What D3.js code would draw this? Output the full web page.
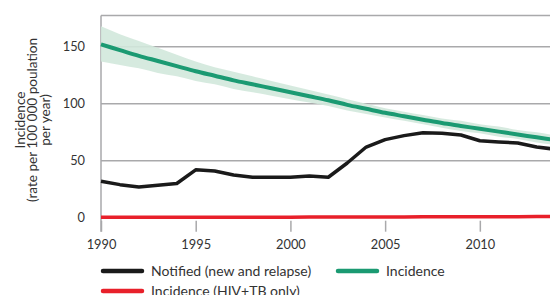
<!DOCTYPE html>
<html><head><meta charset="utf-8">
<script src="https://cdn.jsdelivr.net/npm/d3@7"></script>
<style>body{margin:0;background:#fff}svg{display:block}text{font-family:Lato,"Open Sans",sans-serif;fill:#333}</style>
</head><body>
<svg id="c" width="550" height="295"></svg>
<script>
const years = d3.range(1990, 2015);
const incidence = [152,147,142,137.5,133,128.5,124.5,120.5,117,113.5,110,106.5,103,99,95.5,92,89,86,83,80.5,78,75.5,73,70.5,68];
const incLow =  [137,134,131,127,124,120,117,113,110,107,104,101,98,94,91,88,85,82,79,76,74,71,69,66,64];
const incHigh = [168,161,155,149,143,137,132,128,124,120,116,112,108,104,100,96,93,90,87,85,82,80,77,75,72];
const notified = [32,29,27,28.5,30,42,41,37.5,35.5,35.5,35.5,36.5,35.5,48,62,68.5,72,74.5,74,72.5,67.5,66.5,65.5,62,60];
const hivtb = [0.3,0.3,0.3,0.3,0.4,0.4,0.4,0.5,0.5,0.5,0.5,0.6,0.6,0.6,0.7,0.7,0.7,0.8,0.8,0.8,0.9,0.9,0.9,1.0,1.0];
const yTicks = [0,50,100,150];
const xTicks = [1990,1995,2000,2005,2010];
const legendItems = [
  {label:"Notified (new and relapse)", color:"#1a1a1a"},
  {label:"Incidence", color:"#1b9a72"},
  {label:"Incidence (HIV+TB only)", color:"#e8202a"}
];
const yTitle = ["Incidence","(rate per 100 000 poulation","per year)"];

const svg = d3.select("#c");
const x = d3.scaleLinear().domain([1990,2014]).range([101, 555.6]);
const y = d3.scaleLinear().domain([0,150]).range([217.7, 46.7]);
const topY = 15.5;
const grid = "#a9a9ab";

// gridlines
svg.append("g").selectAll("line").data(yTicks.filter(d=>d>0)).join("line")
  .attr("x1",101).attr("x2",550).attr("y1",d=>y(d)).attr("y2",d=>y(d))
  .attr("stroke",grid).attr("stroke-width",1.5);
svg.append("line").attr("x1",101).attr("x2",550).attr("y1",topY).attr("y2",topY).attr("stroke",grid).attr("stroke-width",1.5);

// x axis
const xAxis = svg.append("g").attr("transform",`translate(0,${y(0)+3})`)
  .call(d3.axisBottom(x).tickValues(xTicks).tickFormat(d3.format("d")).tickSize(11).tickPadding(8));
xAxis.select(".domain").remove();
xAxis.selectAll(".tick line").attr("stroke",grid).attr("stroke-width",1.5);
xAxis.selectAll(".tick text").attr("font-size",12.8).attr("fill","#333").attr("font-family","Lato");

// y axis line
svg.append("line").attr("x1",101).attr("x2",101).attr("y1",topY).attr("y2",y(0)+14).attr("stroke",grid).attr("stroke-width",1.5);
const yAxis = svg.append("g").attr("transform","translate(101,0)")
  .call(d3.axisLeft(y).tickValues(yTicks).tickSize(0).tickPadding(16));
yAxis.select(".domain").remove();
yAxis.selectAll(".tick text").attr("font-size",12.8).attr("fill","#333").attr("font-family","Lato");

// y title
const yt = svg.append("text").attr("transform","translate(0,120) rotate(-90)").attr("text-anchor","middle").attr("font-size",13.6);
yTitle.forEach((t,i)=> yt.append("tspan").attr("x",0).attr("y",24.5+i*12.5).text(t));

// band
const band = d3.area().x((d,i)=>x(years[i])).y0((d,i)=>y(incLow[i])).y1((d,i)=>y(incHigh[i])).curve(d3.curveMonotoneX);
svg.append("path").datum(years).attr("d",band).attr("fill","#d2e8dc").attr("opacity",0.9);

const line = arr => d3.line().x((d,i)=>x(years[i])).y(d=>y(d))(arr);
svg.append("path").attr("d",d3.line().x((d,i)=>x(years[i])).y(d=>y(d)).curve(d3.curveMonotoneX)(incidence))
  .attr("fill","none").attr("stroke","#1b9a72").attr("stroke-width",4);
svg.append("path").attr("d",line(notified)).attr("fill","none").attr("stroke","#1a1a1a").attr("stroke-width",3.5).attr("stroke-linejoin","round");
svg.append("path").attr("d",line(hivtb)).attr("fill","none").attr("stroke","#e8202a").attr("stroke-width",3.5);

// legend
const lpos = [{x:101,y:271},{x:336,y:271},{x:101,y:291}];
legendItems.forEach((d,i)=>{
  const p = lpos[i];
  svg.append("line").attr("x1",p.x+2).attr("x2",p.x+41).attr("y1",p.y).attr("y2",p.y)
    .attr("stroke",d.color).attr("stroke-width",4.5).attr("stroke-linecap","round");
  svg.append("text").attr("x",p.x+50).attr("y",p.y+5).attr("font-size",14).text(d.label);
});
</script>
</body></html>
